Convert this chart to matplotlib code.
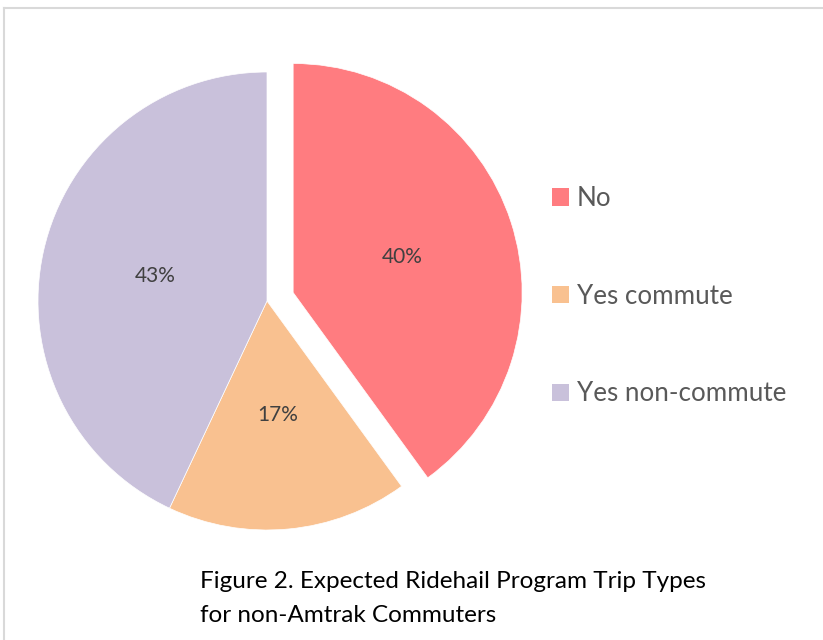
import matplotlib.pyplot as plt
from matplotlib.lines import Line2D
from matplotlib.patches import Patch

labels = ["No", "Yes commute", "Yes non-commute"]
shares = [40, 17, 43]
colors = ["#FF7C80", "#F9C190", "#C9C1DB"]
caption_lines = ["Figure 2. Expected Ridehail Program Trip Types",
                 "for non-Amtrak Commuters"]

W, H = 823, 640
plt.rcParams['font.family'] = ['Lato', 'DejaVu Sans']
fig = plt.figure(figsize=(W / 100, H / 100), dpi=100)

# pie centre (267, 301) px, radius ~229 px
r = 229
cx, cy = 267, 301
half = 1.15 * r
ax = fig.add_axes([(cx - half) / W, (H - cy - half) / H, 2 * half / W, 2 * half / H])
ax.pie(shares, colors=colors, startangle=90, counterclock=False,
       explode=[0.12, 0, 0], autopct="%1.0f%%", pctdistance=0.5,
       wedgeprops=dict(linewidth=0.5, edgecolor="white"),
       textprops=dict(color="#404040", fontsize=15))
ax.set_xlim(-1.15, 1.15)
ax.set_ylim(-1.15, 1.15)
ax.set_aspect("equal")
ax.axis("off")

handles = [Patch(facecolor=c, edgecolor="none") for c in colors]
fig.legend(handles, labels, loc="upper left", bbox_to_anchor=(539 / W, 1 - 173 / H),
           frameon=False, fontsize=18.7, labelcolor="#595959",
           handlelength=0.65, handleheight=0.65, handletextpad=0.3,
           labelspacing=2.8, borderpad=0)

for i, line in enumerate(caption_lines):
    fig.text(200 / W, 1 - (588 + 34 * i) / H, line, fontsize=17.5, color="black",
             va="baseline", ha="left")

# border of the chart area
fig.add_artist(Line2D([4 / W, 1], [1 - 7.5 / H, 1 - 7.5 / H], color="#D9D9D9", lw=1.5))
fig.add_artist(Line2D([4 / W, 4 / W], [0, 1 - 7.5 / H], color="#D9D9D9", lw=1.5))

fig.savefig("out.png", dpi=100)
